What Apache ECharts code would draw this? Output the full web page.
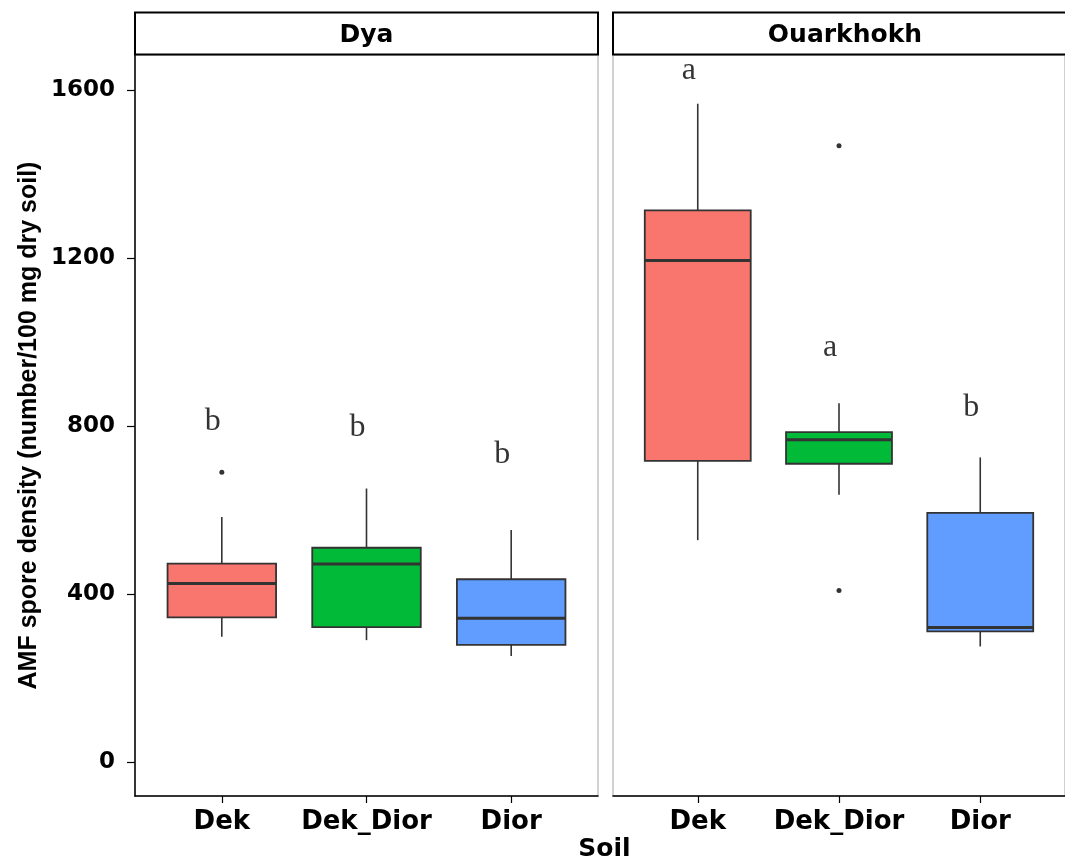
<!DOCTYPE html>
<html>
<head>
<meta charset="utf-8">
<script src="https://cdn.jsdelivr.net/npm/echarts@6/dist/echarts.min.js"></script>
<style>
  html, body { margin: 0; padding: 0; background: #ffffff; }
  #chart { width: 1065px; height: 861px; }
</style>
</head>
<body>
<div id="chart"></div>
<script>
// ---- data ----
const categories = ['Dek', 'Dek_Dior', 'Dior'];
const sites = ['Dya', 'Ouarkhokh'];
const boxColors = ['#F8766D', '#00BA38', '#619CFF'];
// each box: [lower whisker, Q1, median, Q3, upper whisker]
const dyaBoxes = [[298, 344, 425, 472, 583], [290, 321, 471, 510, 651], [252, 279, 342, 435, 552]];
const ouarBoxes = [[528, 717, 1194, 1313, 1567], [636, 710, 767, 785, 854], [275, 311, 320, 593, 725]];
// outliers: [category index, value]
const dyaOutliers = [[0, 690]];
const ouarOutliers = [[1, 1467], [1, 408]];
// significance letters and their heights
const dyaLetters = ['b', 'b', 'b'];
const dyaLetterY = [810, 797, 731];
const ouarLetters = ['a', 'a', 'b'];
const ouarLetterY = [1646, 987, 843];
const yTicks = [0, 400, 800, 1200, 1600];
const yTitle = 'AMF spore density (number/100 mg dry soil)';
const xTitle = 'Soil';

// ---- layout ----
const Y_MIN = -81, Y_MAX = 1683;
const gridTop = 55, gridH = 741, gridW = 463;
const grids = [{ left: 135 }, { left: 613 }];
const horizFont = 'DejaVu Sans';

const chart = echarts.init(document.getElementById('chart'), null, { renderer: 'canvas' });

function renderBox(params, api) {
  const x = api.value(0);
  const lo = api.value(1), q1 = api.value(2), med = api.value(3), q3 = api.value(4), hi = api.value(5);
  const half = 0.375;
  const tl = api.coord([x - half, q3]);
  const br = api.coord([x + half, q1]);
  const ml = api.coord([x - half, med]);
  const mr = api.coord([x + half, med]);
  const pHi = api.coord([x, hi]);
  const pLo = api.coord([x, lo]);
  const pQ3 = api.coord([x, q3]);
  const pQ1 = api.coord([x, q1]);
  const stroke = '#333333';
  return {
    type: 'group',
    children: [
      { type: 'line', shape: { x1: pHi[0], y1: pHi[1], x2: pQ3[0], y2: pQ3[1] }, style: { stroke, lineWidth: 1.6 } },
      { type: 'line', shape: { x1: pLo[0], y1: pLo[1], x2: pQ1[0], y2: pQ1[1] }, style: { stroke, lineWidth: 1.6 } },
      { type: 'rect', shape: { x: tl[0], y: tl[1], width: br[0] - tl[0], height: br[1] - tl[1] },
        style: { fill: boxColors[Math.round(x) - 1], stroke, lineWidth: 1.8 } },
      { type: 'line', shape: { x1: ml[0], y1: ml[1], x2: mr[0], y2: mr[1] }, style: { stroke, lineWidth: 3 } }
    ]
  };
}

function xAxisFor(gi) {
  return {
    type: 'value', gridIndex: gi, min: 0.4, max: 3.6,
    axisLine: { show: true, onZero: false, lineStyle: { color: '#000', width: 1.5 } },
    axisTick: { show: true, customValues: [1, 2, 3], length: 7, lineStyle: { color: '#000', width: 1.2 } },
    axisLabel: {
      show: true, customValues: [1, 2, 3], margin: 13,
      formatter: v => categories[Math.round(v) - 1],
      fontFamily: horizFont, fontWeight: 'bold', fontSize: 26, color: '#000'
    },
    splitLine: { show: false }
  };
}

function yAxisFor(gi) {
  const base = {
    type: 'value', gridIndex: gi, min: Y_MIN, max: Y_MAX,
    splitLine: { show: false }
  };
  if (gi === 0) {
    return Object.assign(base, {
      axisLine: { show: true, onZero: false, lineStyle: { color: '#000', width: 1.5 } },
      axisTick: { show: true, customValues: yTicks, length: 8, lineStyle: { color: '#000', width: 1.2 } },
      axisLabel: {
        show: true, customValues: yTicks, margin: 20,
        formatter: v => String(Math.round(v)),
        fontFamily: horizFont, fontWeight: 'bold', fontSize: 23, color: '#000'
      },
      name: yTitle, nameLocation: 'middle', nameRotate: 90, nameGap: 93,
      nameTextStyle: { fontFamily: '"Liberation Sans", Arial, sans-serif', fontWeight: 'bold', fontSize: 25, color: '#000' }
    });
  }
  return Object.assign(base, {
    axisLine: { show: false }, axisTick: { show: false }, axisLabel: { show: false }
  });
}

function panelSeries(gi, boxes, outliers, letters, letterY) {
  return [
    {
      type: 'custom', xAxisIndex: gi, yAxisIndex: gi,
      renderItem: renderBox,
      encode: { x: 0, y: [1, 2, 3, 4, 5] },
      data: boxes.map((b, i) => [i + 1].concat(b)),
      z: 2
    },
    {
      type: 'scatter', xAxisIndex: gi, yAxisIndex: gi,
      symbol: 'circle', symbolSize: 5,
      itemStyle: { color: '#000' },
      data: outliers.map(o => [o[0] + 1, o[1]]),
      z: 3
    },
    {
      type: 'scatter', xAxisIndex: gi, yAxisIndex: gi,
      symbolSize: 0,
      label: {
        show: true, position: 'inside', offset: [-9, 0],
        formatter: p => p.name,
        fontFamily: '"Liberation Serif", "Times New Roman", serif', fontSize: 32, color: '#000'
      },
      data: letters.map((l, i) => ({ name: l, value: [i + 1, letterY[i]] })),
      z: 4
    }
  ];
}

const option = {
  animation: false,
  backgroundColor: '#ffffff',
  grid: grids.map(g => ({
    left: g.left, top: gridTop, width: gridW, height: gridH,
    show: true, borderColor: '#c4c4c4', borderWidth: 1.5, backgroundColor: '#ffffff', containLabel: false
  })),
  xAxis: [xAxisFor(0), xAxisFor(1)],
  yAxis: [yAxisFor(0), yAxisFor(1)],
  series: [].concat(
    panelSeries(0, dyaBoxes, dyaOutliers, dyaLetters, dyaLetterY),
    panelSeries(1, ouarBoxes, ouarOutliers, ouarLetters, ouarLetterY)
  ),
  graphic: [
    { type: 'rect', shape: { x: 135, y: 12.5, width: 463, height: 42 }, style: { fill: '#fff', stroke: '#000', lineWidth: 2 }, z: 100 },
    { type: 'rect', shape: { x: 613, y: 12.5, width: 470, height: 42 }, style: { fill: '#fff', stroke: '#000', lineWidth: 2 }, z: 100 },
    { type: 'text', x: 366.5, y: 35, style: { text: sites[0], fontFamily: horizFont, fontWeight: 'bold', fontSize: 25, fill: '#000', align: 'center', verticalAlign: 'middle' }, z: 101 },
    { type: 'text', x: 845, y: 35, style: { text: sites[1], fontFamily: horizFont, fontWeight: 'bold', fontSize: 25, fill: '#000', align: 'center', verticalAlign: 'middle' }, z: 101 },
    { type: 'text', x: 604.5, y: 849, style: { text: xTitle, fontFamily: horizFont, fontWeight: 'bold', fontSize: 25, fill: '#000', align: 'center', verticalAlign: 'middle' }, z: 101 }
  ]
};

chart.setOption(option);
</script>
</body>
</html>
